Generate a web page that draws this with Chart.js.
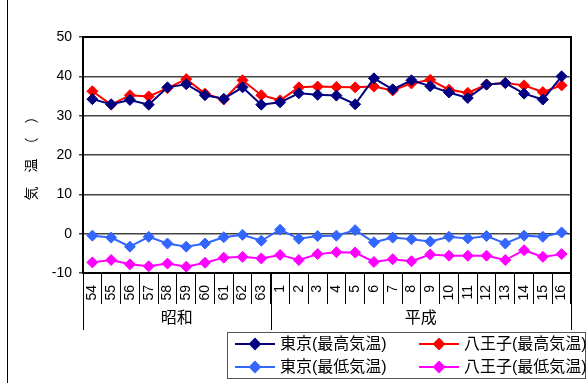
<!DOCTYPE html>
<html>
<head>
<meta charset="utf-8">
<script src="https://cdn.jsdelivr.net/npm/chart.js@4"></script>
<style>
  html, body { margin: 0; padding: 0; background: #fff; }
</style>
</head>
<body>
<canvas id="myChart" width="587" height="383"></canvas>
<script>
    // Data-----
    const years = ['54', '55', '56', '57', '58', '59', '60', '61', '62', '63',
        '1', '2', '3', '4', '5', '6', '7', '8', '9', '10', '11', '12', '13', '14', '15', '16'];
    const eraNames = ['昭和', '平成'];
    const eraStart = [0, 10];   // index into years where each era begins

    const seriesNames = ['東京(最高気温)', '八王子(最高気温)', '東京(最低気温)', '八王子(最低気温)'];
    const tokyoHigh = [34.2, 32.9, 34.0, 32.8, 37.2, 38.0, 35.2, 34.3, 37.2, 32.8,
        33.4, 35.7, 35.3, 35.1, 32.9, 39.5, 36.7, 39.0, 37.5, 35.9, 34.5, 37.9, 38.3, 35.6, 34.1, 40.0];
    const hachiojiHigh = [36.2, 32.8, 35.2, 34.9, 37.0, 39.3, 35.6, 34.1, 39.0, 35.2,
        33.9, 37.2, 37.4, 37.3, 37.2, 37.4, 36.4, 38.2, 39.1, 36.6, 35.8, 37.9, 38.3, 37.7, 36.0, 37.7];
    const tokyoLow = [-0.5, -1.0, -3.3, -0.8, -2.5, -3.3, -2.5, -0.9, -0.3, -1.8,
        1.0, -1.3, -0.6, -0.5, 0.9, -2.2, -1.0, -1.4, -2.0, -0.8, -1.2, -0.6, -2.5, -0.5, -0.8, 0.3];
    const hachiojiLow = [-7.3, -6.7, -7.8, -8.3, -7.6, -8.4, -7.4, -6.1, -5.9, -6.3,
        -5.4, -6.7, -5.2, -4.7, -4.8, -7.2, -6.5, -7.0, -5.3, -5.6, -5.6, -5.6, -6.7, -4.2, -5.9, -5.2];
    const seriesColors = ['#000080', '#ff0000', '#3366ff', '#ff00ff'];
    // Data-----

    const FONT = "'Liberation Sans', Arial, 'Noto Sans CJK JP', sans-serif";
    Chart.defaults.font.family = FONT;
    Chart.defaults.color = '#000';

    // Plot frame, era grouping under the year labels, boxed legend-----
    const decorations = {
        id: 'decorations',
        beforeDatasetsDraw(chart) {
            const {ctx, chartArea: a} = chart;
            ctx.save();
            ctx.strokeStyle = '#000';
            ctx.lineWidth = 2;
            ctx.strokeRect(a.left, a.top, a.right - a.left, a.bottom - a.top);
            ctx.restore();
        },
        afterDraw(chart) {
            const {ctx, chartArea: a} = chart;
            const x = chart.scales.x;
            ctx.save();

            // outer chart edge
            ctx.strokeStyle = '#000';
            ctx.lineWidth = 1;
            ctx.beginPath();
            ctx.moveTo(7.5, 0);
            ctx.lineTo(7.5, chart.height);
            ctx.stroke();

            // era separators and names
            const edges = eraStart.map(i => i === 0 ? a.left
                : (x.getPixelForValue(i - 1) + x.getPixelForValue(i)) / 2);
            edges.push(a.right);
            ctx.beginPath();
            edges.forEach(px => {
                const p = Math.round(px) + 0.5;
                ctx.moveTo(p, a.bottom);
                ctx.lineTo(p, 330);
            });
            ctx.stroke();
            ctx.font = '16px ' + FONT;
            ctx.fillStyle = '#000';
            ctx.textAlign = 'center';
            ctx.textBaseline = 'middle';
            eraNames.forEach((n, k) => ctx.fillText(n, (edges[k] + edges[k + 1]) / 2, 319));

            // legend: two columns, two rows inside a box
            const bx = 227, by = 332, bw = 358, bh = 46;
            ctx.strokeStyle = '#555';
            ctx.strokeRect(bx + 0.5, by + 0.5, bw, bh);
            ctx.textAlign = 'left';
            chart.data.datasets.forEach((ds, i) => {
                const lx = bx + 8 + (i % 2) * 184;
                const ly = by + 12 + Math.floor(i / 2) * 23;
                ctx.strokeStyle = ds.borderColor;
                ctx.lineWidth = 2;
                ctx.beginPath();
                ctx.moveTo(lx, ly);
                ctx.lineTo(lx + 40, ly);
                ctx.stroke();
                ctx.fillStyle = ds.borderColor;
                Chart.helpers.drawPoint(ctx, {pointStyle: 'rectRot', radius: 5, borderWidth: 1}, lx + 20, ly);
                ctx.fill();
                ctx.fillStyle = '#000';
                ctx.fillText(ds.label, lx + 45, ly + 1);
            });
            ctx.restore();
        }
    };

    const lineSet = (label, data, color) => ({
        label,
        data,
        borderColor: color,
        backgroundColor: color,
        borderWidth: 2,
        pointStyle: 'rectRot',
        pointRadius: 5.5,
        pointBorderWidth: 1,
        tension: 0
    });

    // Config-----
    const config = {
        type: 'line',
        data: {
            labels: years,
            datasets: [
                lineSet(seriesNames[0], tokyoHigh, seriesColors[0]),
                lineSet(seriesNames[1], hachiojiHigh, seriesColors[1]),
                lineSet(seriesNames[2], tokyoLow, seriesColors[2]),
                lineSet(seriesNames[3], hachiojiLow, seriesColors[3])
            ]
        },
        options: {
            responsive: false,
            animation: false,
            layout: {padding: {top: 37, right: 16, left: 0, bottom: 0}},
            plugins: {
                legend: {display: false},
                tooltip: {enabled: false}
            },
            scales: {
                x: {
                    offset: true,
                    border: {display: false},
                    grid: {
                        offset: true,
                        drawOnChartArea: false,
                        tickLength: 31,
                        color: '#000',
                        lineWidth: 1
                    },
                    ticks: {
                        autoSkip: false,
                        minRotation: 90,
                        maxRotation: 90,
                        padding: -19,
                        font: {size: 14}
                    },
                    afterFit(scale) { scale.height = 110; }
                },
                y: {
                    min: -10,
                    max: 50,
                    border: {display: false},
                    grid: {color: '#444', lineWidth: 1.5, tickLength: 4},
                    ticks: {stepSize: 10, padding: 7, font: {size: 14}},
                    title: {
                        display: true,
                        text: '気　温　（　）',
                        font: {size: 14},
                        padding: {top: 24, bottom: 0}
                    },
                    afterFit(scale) { scale.width = 83; }
                }
            }
        },
        plugins: [decorations]
    };
    // Config-----

    var myChart = new Chart(
        document.getElementById('myChart'),
        config
    );
</script>
</body>
</html>
